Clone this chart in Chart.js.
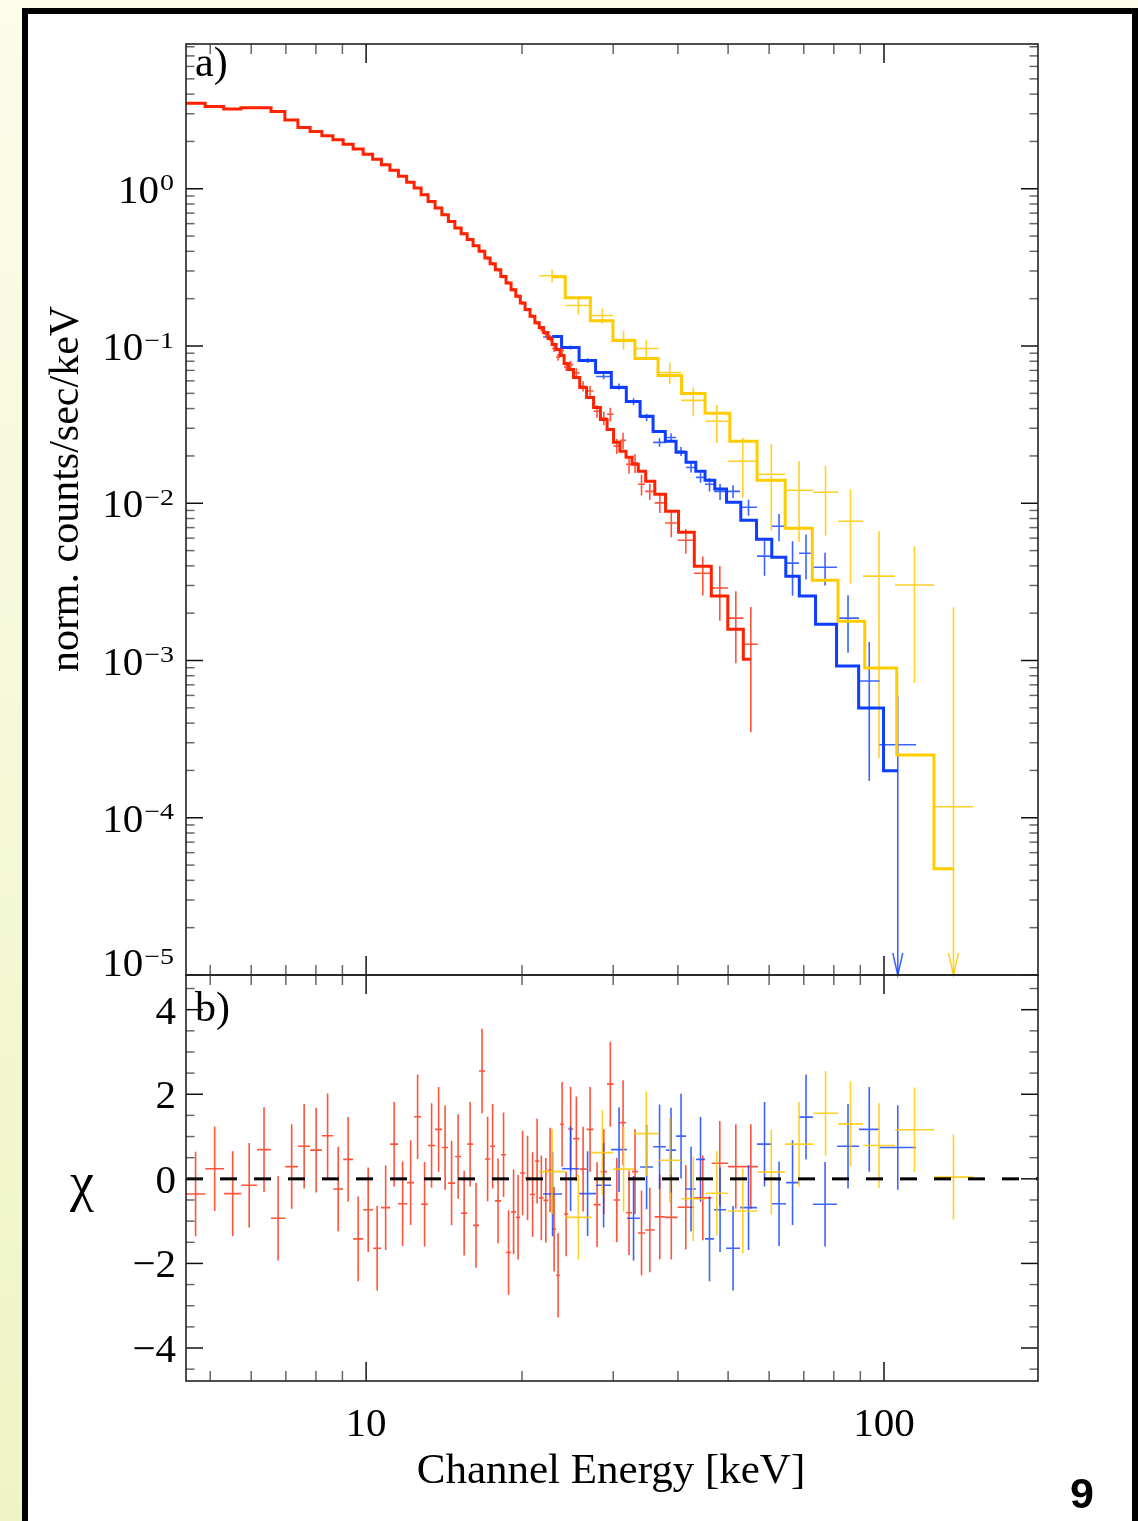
<!DOCTYPE html>
<html>
<head>
<meta charset="utf-8">
<title>Spectrum and residuals</title>
<script src="https://cdn.jsdelivr.net/npm/chart.js@4.4.1/dist/chart.umd.min.js"></script>
<style>
  html, body { margin: 0; padding: 0; }
  body {
    width: 1138px; height: 1521px; position: relative; overflow: hidden;
    background: linear-gradient(to bottom, #fbfce9 0%, #f4f8d6 55%, #eef4c4 100%);
  }
  #page {
    position: absolute; left: 22px; top: 8px; width: 1116px; height: 1540px;
    box-sizing: border-box; background: #fff;
    border: 6px solid #000; border-bottom: none;
  }
  canvas { position: absolute; left: 0; }
  #topPanel { top: 0; }
  #botPanel { top: 960px; }
  #pageNum {
    position: absolute; left: 1070px; top: 1472px;
    font: bold 43px "Liberation Sans", sans-serif; line-height: 43px; color: #000;
  }
</style>
</head>
<body>
<div id="page"></div>
<canvas id="topPanel" width="1138" height="990"></canvas>
<canvas id="botPanel" width="1138" height="561"></canvas>
<div id="pageNum">9</div>

<script>
// ---- axis ranges and ticks ----
const xMin = 4.49, xMax = 198.3;
const yMin = 1.0e-5, yMax = 8.33;
const chiMin = -4.78, chiMax = 4.82;

const xMajorTicks = [10, 100];
const xMajorLabels = ['10', '100'];
const xMinorTicks = [5, 6, 7, 8, 9, 20, 30, 40, 50, 60, 70, 80, 90, 200];
const yDecades = [1, 0.1, 0.01, 0.001, 0.0001, 0.00001];
const yDecadeExp = ['0', '\u22121', '\u22122', '\u22123', '\u22124', '\u22125'];
const chiMajorTicks = [-4, -2, 0, 2, 4];
const chiMajorLabels = ['\u22124', '\u22122', '0', '2', '4'];
const chiMinorTicks = [-4.5, -3.5, -3, -2.5, -1.5, -1, -0.5, 0.5, 1, 1.5, 2.5, 3, 3.5, 4.5];
const chiErr = 1;

// ---- red spectrum (bin edges keV, model, data, error, residual) ----
const redEdges = [4.12, 4.49, 4.89, 5.32, 5.74, 6.16, 6.55, 6.98, 7.39, 7.80, 8.22, 8.64, 9.03, 9.44,
  9.87, 10.32, 10.69, 11.13, 11.53, 12.00, 12.38, 12.77, 13.17, 13.59, 14.02, 14.40, 14.85, 15.26,
  15.67, 16.09, 16.52, 16.97, 17.36, 17.74, 18.22, 18.63, 19.05, 19.48, 19.83, 20.27, 20.73, 21.20,
  21.58, 22.01, 22.46, 22.86, 23.27, 23.69, 24.11, 24.55, 25.10, 25.84, 26.65, 27.49, 28.36, 29.19,
  30.05, 30.93, 31.76, 32.62, 33.50, 34.56, 36.06, 37.77, 39.94, 42.97, 46.45, 49.99, 53.56, 57.12];
const redModel = [3.50, 3.50, 3.33, 3.22, 3.28, 3.28, 3.10, 2.74, 2.45, 2.31, 2.17, 2.05, 1.92, 1.79,
  1.66, 1.54, 1.42, 1.31, 1.20, 1.10, 1.01, 0.916, 0.831, 0.754, 0.684, 0.620, 0.563, 0.518, 0.475,
  0.434, 0.400, 0.363, 0.334, 0.306, 0.277, 0.252, 0.228, 0.207, 0.188, 0.1705, 0.1546, 0.1404,
  0.1310, 0.1218, 0.1116, 0.1022, 0.0950, 0.0870, 0.0774, 0.0709, 0.0631, 0.0545, 0.0471, 0.0407,
  0.0341, 0.0295, 0.0244, 0.0214, 0.0196, 0.0177, 0.0160, 0.0138, 0.0114, 0.00889, 0.00654,
  0.00398, 0.00257, 0.00158, 0.00102];
const redRate = [3.50, 3.50, 3.33, 3.22, 3.28, 3.28, 3.10, 2.74, 2.45, 2.31, 2.17, 2.05, 1.92, 1.79,
  1.66, 1.54, 1.42, 1.31, 1.20, 1.10, 1.01, 0.916, 0.831, 0.754, 0.684, 0.620, 0.563, 0.518, 0.475,
  0.434, 0.400, 0.363, 0.334, 0.306, 0.277, 0.252, 0.228, 0.207, 0.188, 0.1705, 0.1546, 0.1404,
  0.1288, 0.1193, 0.1125, 0.0964, 0.0848, 0.0936, 0.0737, 0.0761, 0.0675, 0.0555, 0.0517, 0.0385,
  0.0348, 0.0368, 0.0231, 0.0251, 0.0177, 0.0181, 0.0132, 0.0119, 0.01006, 0.00749, 0.00582,
  0.00359, 0.00289, 0.00186, 0.00127];
const redErr = [0.05, 0.05, 0.05, 0.048, 0.049, 0.049, 0.047, 0.041, 0.037, 0.035, 0.033, 0.031, 0.029,
  0.027, 0.025, 0.023, 0.021, 0.020, 0.018, 0.017, 0.015, 0.014, 0.012, 0.011, 0.010, 0.0093, 0.0084,
  0.0078, 0.0071, 0.0065, 0.010, 0.0091, 0.0084, 0.0077, 0.0069, 0.0063, 0.0057, 0.0052, 0.0047,
  0.0043, 0.0039, 0.0035, 0.0052, 0.0048, 0.0051, 0.0048, 0.0042, 0.0051, 0.0044, 0.0046, 0.0047,
  0.0042, 0.0041, 0.0035, 0.0035, 0.0037, 0.0025, 0.0030, 0.0023, 0.0025, 0.0020, 0.0014, 0.0014,
  0.0014, 0.00105, 0.0010, 0.0011, 0.0009, 0.00092];
const redChi = [0.0, -0.36, 0.24, -0.35, -0.15, 0.69, -0.93, 0.29, 0.77, 0.68, 1.02, -0.24, 0.46, -1.42,
  -0.73, -1.64, -0.68, 0.82, -0.59, -0.09, 1.47, -0.6, 0.79, 1.17, 0.74, -0.1, 0.53, -0.81, 0.82, -1.1,
  2.55, 0.47, 0.77, -0.52, 0.57, -1.74, -0.78, -0.91, 0.14, 0.02, -0.37, 0.42,
  -0.45, -0.51, 0.21, -1.19, -2.28, 1.29, -0.83, 1.18, 0.95, 0.23, 1.17, -0.61, 0.17, 2.24, -0.5,
  1.33, -0.8, 0.17, -1.28, -1.21, -0.9, -0.91, -0.67, -0.45, 0.37, 0.29, 0.29];

// ---- blue spectrum ----
const blueEdges = [21.96, 23.90, 25.78, 27.80, 29.72, 31.90, 33.81, 35.82, 37.94, 39.67, 41.47, 43.36,
  45.12, 46.97, 49.55, 52.72, 56.86, 60.78, 64.69, 68.54, 72.94, 81.16, 89.47, 98.02, 115.3];
const blueModel = [0.1149, 0.0978, 0.0809, 0.0679, 0.0545, 0.0444, 0.0357, 0.0286, 0.0248, 0.0211,
  0.0182, 0.0160, 0.0140, 0.0123, 0.01015, 0.0078, 0.00591, 0.00454, 0.00344, 0.00257, 0.00170,
  0.000923, 0.000499, 0.000199];
const blueRate = [0.114, 0.0978, 0.0809, 0.0640, 0.0553, 0.0444, 0.0352, 0.0244, 0.0262, 0.0214,
  0.0169, 0.0146, 0.0132, 0.0119, 0.0119, 0.00943, 0.00461, 0.00714, 0.00416, 0.00481, 0.00392,
  0.00186, 0.000741, 0.000291];
const blueErr = [0.0029, 0.0029, 0.0028, 0.0026, 0.0025, 0.0022, 0.0019, 0.0015, 0.0016, 0.0014,
  0.0012, 0.0011, 0.0013, 0.0014, 0.0011, 0.0011, 0.00115, 0.0014, 0.00158, 0.00153, 0.00092,
  0.00074, 0.00057, 0.000304];
const blueChi = [-0.36, 0.24, -0.35, -0.15, 0.69, -0.93, 0.28, 0.76, 0.68, 1.01, -0.24, 0.46, -1.42,
  -0.73, -1.64, -0.68, 0.82, -0.59, -0.09, 1.46, -0.6, 0.77, 1.17, 0.74];

// ---- yellow spectrum ----
const yelEdges = [21.58, 24.22, 27.25, 29.98, 32.91, 36.70, 40.56, 45.23, 50.0, 56.99, 64.41, 72.94,
  81.52, 91.09, 105.0, 124.9, 148.5];
const yelModel = [0.276, 0.203, 0.145, 0.1083, 0.0833, 0.0650, 0.0499, 0.0373, 0.0248, 0.0140,
  0.00694, 0.00324, 0.00178, 0.000896, 0.000251, 0.0000474];
const yelRate = [0.280, 0.1808, 0.1562, 0.110, 0.0964, 0.0679, 0.0451, 0.0332, 0.0185, 0.01528,
  0.0121, 0.01174, 0.00769, 0.00344, 0.00302, 0.0001174];
const yelErr = [0.026, 0.022, 0.017, 0.015, 0.0128, 0.0105, 0.0094, 0.009, 0.0076, 0.0086, 0.0064,
  0.0055, 0.0046, 0.0032, 0.0023, 0.00206];
const yelChi = [0.17, -0.91, 0.62, 0.23, 1.07, 0.44, -0.47, -0.34, -0.76, 0.16, 0.82, 1.55, 1.3, 0.79,
  1.16, 0.04];

const RED = '#ff2200', BLUE = '#0d3dff', YEL = '#ffcc00';
const RED_D = 'rgba(255,40,10,0.8)', BLUE_D = 'rgba(13,61,255,0.8)', YEL_D = 'rgba(255,200,0,0.85)';
const SERIF = '"Liberation Serif", "Times New Roman", serif';

function centers(edges) {
    return edges.slice(1).map((e, i) => Math.sqrt(e * edges[i]));
}

// error crosses as one broken line: horizontal bin bar + vertical error bar per point
function crossPoints(edges, vals, errs, floor, limits, color) {
    const pts = [];
    for (let i = 0; i < vals.length; i++) {
        const lo = edges[i], hi = edges[i + 1], c = Math.sqrt(lo * hi);
        const e = Array.isArray(errs) ? errs[i] : errs;
        let bottom = vals[i] - e;
        if (floor !== null && bottom <= floor) {
            bottom = floor;
            if (limits) limits.push({ x: c, color });
        }
        pts.push({ x: lo, y: vals[i] }, { x: hi, y: vals[i] }, { x: c, y: NaN });
        pts.push({ x: c, y: vals[i] + e }, { x: c, y: bottom }, { x: c, y: NaN });
    }
    return pts;
}

function modelSet(edges, vals, color, order) {
    return {
        data: centers(edges).map((c, i) => ({ x: c, y: vals[i] })),
        showLine: true, stepped: 'middle', borderColor: color, borderWidth: 3,
        pointRadius: 0, order
    };
}

function crossSet(pts, color, order) {
    return {
        data: pts, showLine: true, spanGaps: false, borderColor: color, borderWidth: 1.6,
        pointRadius: 0, order
    };
}

function strokeLine(ctx, x1, y1, x2, y2) {
    ctx.beginPath(); ctx.moveTo(x1, y1); ctx.lineTo(x2, y2); ctx.stroke();
}

function drawXTicks(ctx, a, x) {
    ctx.lineWidth = 1.5;
    ctx.strokeStyle = '#666';
    xMinorTicks.forEach(v => {
        const px = x.getPixelForValue(v);
        if (px < a.left || px > a.right) return;
        strokeLine(ctx, px, a.top, px, a.top + 10);
        strokeLine(ctx, px, a.bottom, px, a.bottom - 10);
    });
    ctx.strokeStyle = '#111';
    xMajorTicks.forEach(v => {
        const px = x.getPixelForValue(v);
        strokeLine(ctx, px, a.top, px, a.top + 19);
        strokeLine(ctx, px, a.bottom, px, a.bottom - 19);
    });
}

function drawYTick(ctx, a, py, len) {
    strokeLine(ctx, a.left, py, a.left + len, py);
    strokeLine(ctx, a.right, py, a.right - len, py);
}

function drawFrame(ctx, a) {
    ctx.strokeStyle = '#222';
    ctx.lineWidth = 1.6;
    ctx.strokeRect(a.left, a.top, a.right - a.left, a.bottom - a.top);
}

const upperLimits = [];

const topDecor = {
    id: 'topDecor',
    afterDatasetsDraw(chart) {
        const { ctx, scales: { x, y } } = chart;
        ctx.save();
        ctx.lineWidth = 1.5;
        upperLimits.forEach(l => {
            const px = x.getPixelForValue(l.x), py = y.getPixelForValue(yMin);
            ctx.strokeStyle = l.color;
            ctx.beginPath();
            ctx.moveTo(px - 5, py - 22); ctx.lineTo(px, py); ctx.lineTo(px + 5, py - 22);
            ctx.stroke();
        });
        ctx.restore();
    },
    afterDraw(chart) {
        const { ctx, chartArea: a, scales: { x, y } } = chart;
        ctx.save();
        drawXTicks(ctx, a, x);
        ctx.strokeStyle = '#666';
        yDecades.forEach(d => {
            for (let m = 2; m <= 9; m++) {
                const v = m * d;
                if (v > yMax) continue;
                drawYTick(ctx, a, y.getPixelForValue(v), 8.5);
            }
        });
        ctx.strokeStyle = '#111';
        yDecades.forEach(d => drawYTick(ctx, a, y.getPixelForValue(d), 17));
        drawFrame(ctx, a);

        // tick labels 10^n
        ctx.fillStyle = '#000';
        ctx.textBaseline = 'alphabetic';
        ctx.textAlign = 'right';
        yDecades.forEach((d, i) => {
            const cy = Math.min(y.getPixelForValue(d), a.bottom - 13);
            ctx.font = '28px ' + SERIF;
            const ew = ctx.measureText(yDecadeExp[i]).width;
            ctx.save();
            ctx.translate(0, cy - 14.5);
            ctx.scale(1, 0.85);
            ctx.fillText(yDecadeExp[i], 174, 19);
            ctx.restore();
            ctx.font = '41px ' + SERIF;
            ctx.fillText('10', 173 - ew, cy + 14);
        });

        ctx.textAlign = 'left';
        ctx.font = '42px ' + SERIF;
        ctx.fillText('a)', a.left + 9, a.top + 32);

        ctx.save();
        ctx.translate(78, 489);
        ctx.rotate(-Math.PI / 2);
        ctx.textAlign = 'center';
        ctx.font = '42px ' + SERIF;
        ctx.fillText('norm. counts/sec/keV', 0, 0);
        ctx.restore();
        ctx.restore();
    }
};

const botDecor = {
    id: 'botDecor',
    afterDraw(chart) {
        const { ctx, chartArea: a, scales: { x, y } } = chart;
        ctx.save();
        drawXTicks(ctx, a, x);
        ctx.strokeStyle = '#666';
        chiMinorTicks.forEach(v => drawYTick(ctx, a, y.getPixelForValue(v), 8.5));
        ctx.strokeStyle = '#111';
        chiMajorTicks.forEach(v => drawYTick(ctx, a, y.getPixelForValue(v), 17));
        drawFrame(ctx, a);

        ctx.fillStyle = '#000';
        ctx.textBaseline = 'alphabetic';
        ctx.font = '41px ' + SERIF;
        ctx.textAlign = 'right';
        chiMajorTicks.forEach((v, i) => {
            ctx.fillText(chiMajorLabels[i], 176, y.getPixelForValue(v) + 14);
        });
        ctx.textAlign = 'center';
        xMajorTicks.forEach((v, i) => {
            ctx.fillText(xMajorLabels[i], x.getPixelForValue(v), a.bottom + 55);
        });
        ctx.textAlign = 'left';
        ctx.font = '42px ' + SERIF;
        ctx.fillText('b)', a.left + 9, a.top + 46);

        ctx.font = '43px ' + SERIF;
        ctx.textAlign = 'center';
        ctx.fillText('Channel Energy [keV]', 611, a.bottom + 102);
        ctx.font = '54px ' + SERIF;
        ctx.fillText('\u03c7', 82, a.top + 225);
        ctx.restore();
    }
};

const baseOptions = (padding, yScale) => ({
    responsive: false,
    animation: false,
    devicePixelRatio: 1,
    layout: { padding },
    plugins: { legend: { display: false }, tooltip: { enabled: false } },
    scales: {
        x: { type: 'logarithmic', min: xMin, max: xMax, bounds: 'data', display: false },
        y: yScale
    }
});

new Chart(document.getElementById('topPanel'), {
    type: 'scatter',
    data: {
        datasets: [
            modelSet(redEdges, redModel, RED, 0),
            modelSet(blueEdges, blueModel, BLUE, 1),
            modelSet(yelEdges, yelModel, YEL, 2),
            crossSet(crossPoints(redEdges, redRate, redErr, yMin, upperLimits, RED_D), RED_D, 3),
            crossSet(crossPoints(blueEdges, blueRate, blueErr, yMin, upperLimits, BLUE_D), BLUE_D, 4),
            crossSet(crossPoints(yelEdges, yelRate, yelErr, yMin, upperLimits, YEL_D), YEL_D, 5)
        ]
    },
    options: baseOptions({ left: 186, right: 100, top: 44, bottom: 15 },
        { type: 'logarithmic', min: yMin, max: yMax, bounds: 'data', display: false }),
    plugins: [topDecor]
});

new Chart(document.getElementById('botPanel'), {
    type: 'scatter',
    data: {
        datasets: [
            {
                data: [{ x: xMin, y: 0 }, { x: xMax, y: 0 }], showLine: true, borderColor: '#000',
                borderWidth: 3, borderDash: [17, 17], pointRadius: 0, order: 0
            },
            crossSet(crossPoints(redEdges, redChi, chiErr, null, null, RED_D), RED_D, 3),
            crossSet(crossPoints(blueEdges, blueChi, chiErr, null, null, BLUE_D), BLUE_D, 2),
            crossSet(crossPoints(yelEdges, yelChi, chiErr, null, null, YEL_D), YEL_D, 1)
        ]
    },
    options: baseOptions({ left: 186, right: 100, top: 15, bottom: 140 },
        { type: 'linear', min: chiMin, max: chiMax, bounds: 'data', display: false }),
    plugins: [botDecor]
});
</script>
</body>
</html>
